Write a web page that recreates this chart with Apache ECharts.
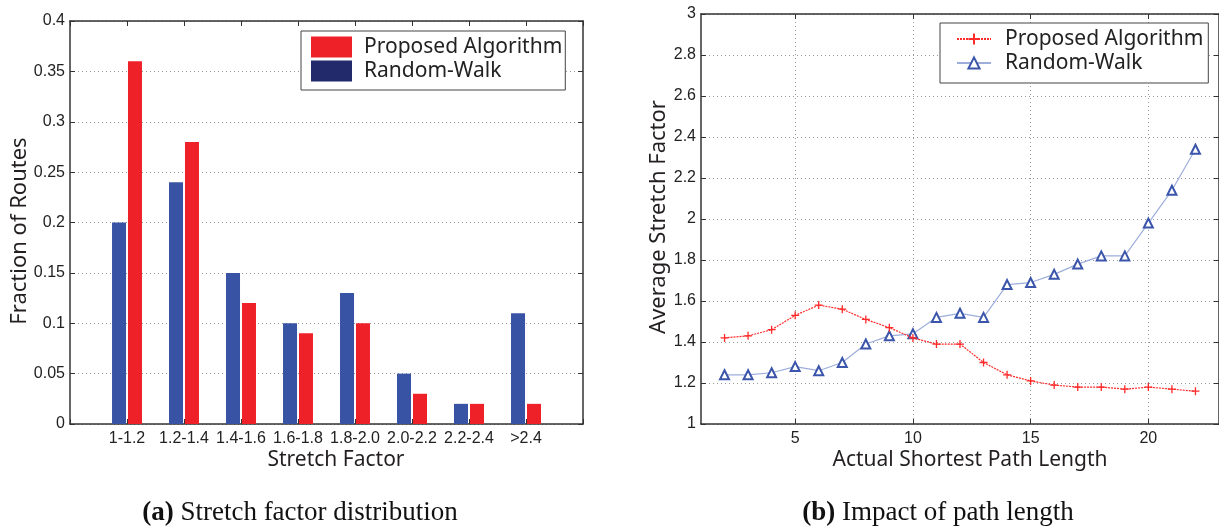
<!DOCTYPE html>
<html>
<head>
<meta charset="utf-8">
<script src="https://cdn.jsdelivr.net/npm/echarts@6/dist/echarts.min.js"></script>
<style>
html,body{margin:0;padding:0;background:#fff;}
#c{width:1219px;height:528px;}
</style>
</head>
<body>
<div id="c"></div>
<script>
// ---- data: panel (a) ----
var stretchCategories = ['1-1.2','1.2-1.4','1.4-1.6','1.6-1.8','1.8-2.0','2.0-2.2','2.2-2.4','>2.4'];
var randomWalkFraction = [0.20, 0.24, 0.15, 0.10, 0.13, 0.05, 0.02, 0.11];
var proposedFraction   = [0.36, 0.28, 0.12, 0.09, 0.10, 0.03, 0.02, 0.02];

// ---- data: panel (b) ----
var pathLengths = [2,3,4,5,6,7,8,9,10,11,12,13,14,15,16,17,18,19,20,21,22];
var proposedStretch   = [1.42,1.43,1.46,1.53,1.58,1.56,1.51,1.47,1.42,1.39,1.39,1.30,1.24,1.21,1.19,1.18,1.18,1.17,1.18,1.17,1.16];
var randomWalkStretch = [1.24,1.24,1.25,1.28,1.26,1.30,1.39,1.43,1.44,1.52,1.54,1.52,1.68,1.69,1.73,1.78,1.82,1.82,1.98,2.14,2.34];
var xTicksB = [5,10,15,20];

var RED = '#ee2028', BLUE = '#3953a4', NAVY = '#232a6b';
var LRED = '#ff2a2a', LBLUE = '#9eaedc', TRI = '#3a55aa';
var AX = '#333';
var tickFont = {fontFamily:'Liberation Sans, Arial, sans-serif', fontSize:16, color:'#222'};
var gridLine = {show:true, lineStyle:{color:'#999', type:[1,3], width:1}};

function pairs(xs, ys){ return xs.map(function(x,i){ return [x, ys[i]]; }); }
var barX = stretchCategories.map(function(c,i){ return i+1; });

var chart = echarts.init(document.getElementById('c'), null, {renderer:'canvas'});
var option = {
  animation:false,
  backgroundColor:'#fff',
  grid:[
    {left:70, top:21, right:1219-583, bottom:528-424, show:false},
    {left:701, top:14, right:-3, bottom:528-424, show:false}
  ],
  xAxis:[
    {gridIndex:0, type:'value', min:0, max:stretchCategories.length+1, interval:1,
     axisLine:{show:true, onZero:false, lineStyle:{color:AX, width:1.5}},
     axisTick:{show:true, inside:true, length:5, lineStyle:{color:AX}},
     axisLabel:Object.assign({margin:7, formatter:function(v){ return (v>=1 && v<=stretchCategories.length) ? stretchCategories[v-1] : ''; }}, tickFont),
     splitLine:{show:false}},
    {gridIndex:0, type:'value', position:'top', min:0, max:stretchCategories.length+1, interval:1,
     axisLine:{show:true, onZero:false, lineStyle:{color:AX, width:1.5}},
     axisTick:{show:true, inside:true, length:5, lineStyle:{color:AX}},
     axisLabel:{show:false}, splitLine:{show:false}},
    {gridIndex:1, type:'value', min:1, max:23,
     axisLine:{show:true, onZero:false, lineStyle:{color:AX, width:1.5}},
     axisTick:{show:true, inside:true, length:5, lineStyle:{color:AX}, customValues:xTicksB},
     axisLabel:Object.assign({margin:7, customValues:xTicksB}, tickFont),
     splitLine:gridLine},
    {gridIndex:1, type:'value', position:'top', min:1, max:23,
     axisLine:{show:true, onZero:false, lineStyle:{color:AX, width:1.5}},
     axisTick:{show:true, inside:true, length:5, lineStyle:{color:AX}, customValues:xTicksB},
     axisLabel:{show:false, customValues:xTicksB}, splitLine:{show:false}}
  ],
  yAxis:[
    {gridIndex:0, type:'value', min:0, max:0.4, interval:0.05,
     axisLine:{show:true, onZero:false, lineStyle:{color:AX, width:1.5}},
     axisTick:{show:true, inside:true, length:5, lineStyle:{color:AX}},
     axisLabel:Object.assign({margin:5, formatter:function(v){ return String(+v.toFixed(2)); }}, tickFont),
     splitLine:gridLine},
    {gridIndex:0, type:'value', position:'right', min:0, max:0.4, interval:0.05,
     axisLine:{show:true, onZero:false, lineStyle:{color:AX, width:1.5}},
     axisTick:{show:true, inside:true, length:5, lineStyle:{color:AX}},
     axisLabel:{show:false}, splitLine:{show:false}},
    {gridIndex:1, type:'value', min:1, max:3, interval:0.2,
     axisLine:{show:true, onZero:false, lineStyle:{color:AX, width:1.5}},
     axisTick:{show:true, inside:true, length:5, lineStyle:{color:AX}},
     axisLabel:Object.assign({margin:5, formatter:function(v){ return String(+v.toFixed(1)); }}, tickFont),
     splitLine:gridLine},
    {gridIndex:1, type:'value', position:'right', min:1, max:3, interval:0.2,
     axisLine:{show:true, onZero:false, lineStyle:{color:AX, width:1.5}},
     axisTick:{show:true, inside:true, length:5, lineStyle:{color:AX}},
     axisLabel:{show:false}, splitLine:{show:false}}
  ],
  legend:[
    {selectedMode:false, orient:'vertical', left:301, top:31,
     padding:[4,3,7,10], itemGap:0, itemWidth:41, itemHeight:21,
     borderColor:'#444', borderWidth:1, backgroundColor:'#fff',
     textStyle:{fontFamily:'Noto Sans', fontSize:21, color:'#222', lineHeight:24, padding:[0,0,0,7]},
     data:[
       {name:'Proposed Algorithm', icon:'rect', itemStyle:{color:RED}},
       {name:'Random-Walk', icon:'rect', itemStyle:{color:NAVY}}
     ]},
    {selectedMode:false, orient:'vertical', left:940, top:23,
     padding:[4,5,8,16], itemGap:0, itemWidth:34, itemHeight:14,
     borderColor:'#444', borderWidth:1, backgroundColor:'#fff',
     textStyle:{fontFamily:'Noto Sans', fontSize:21, color:'#222', lineHeight:24, padding:[0,0,0,9]},
     formatter:function(n){ return n.replace(' (b)',''); },
     data:['Proposed Algorithm (b)','Random-Walk (b)']}
  ],
  series:[
    {name:'Random-Walk', type:'bar', xAxisIndex:0, yAxisIndex:0,
     barWidth:14, barGap:'14%', itemStyle:{color:BLUE},
     data:pairs(barX, randomWalkFraction)},
    {name:'Proposed Algorithm', type:'bar', xAxisIndex:0, yAxisIndex:0,
     barWidth:14, barGap:'14%', itemStyle:{color:RED},
     data:pairs(barX, proposedFraction)},
    {name:'Proposed Algorithm (b)', type:'line', xAxisIndex:2, yAxisIndex:2,
     symbol:'path://M0,5L10,5M5,0L5,10', symbolSize:8, showAllSymbol:true,
     itemStyle:{color:LRED, borderColor:LRED, borderWidth:1.3},
     lineStyle:{color:LRED, width:1.2, type:[2,1]},
     data:pairs(pathLengths, proposedStretch), z:3},
    {name:'Random-Walk (b)', type:'line', xAxisIndex:2, yAxisIndex:2,
     symbol:'emptyTriangle', symbolSize:9, showAllSymbol:true,
     itemStyle:{color:TRI, borderColor:TRI, borderWidth:1.2},
     lineStyle:{color:LBLUE, width:1.2},
     data:pairs(pathLengths, randomWalkStretch), z:2}
  ],
  graphic:[
    {type:'text', x:20, y:231, rotation:Math.PI/2,
     style:{text:'Fraction of Routes', font:'22px "Noto Sans"', fill:'#231f20', textAlign:'center', textVerticalAlign:'middle'}},
    {type:'text', x:336, y:460,
     style:{text:'Stretch Factor', font:'21px "Noto Sans"', fill:'#231f20', textAlign:'center', textVerticalAlign:'middle'}},
    {type:'text', x:659, y:217, rotation:Math.PI/2,
     style:{text:'Average Stretch Factor', font:'22px "Noto Sans"', fill:'#231f20', textAlign:'center', textVerticalAlign:'middle'}},
    {type:'text', x:970, y:460,
     style:{text:'Actual Shortest Path Length', font:'21px "Noto Sans"', fill:'#231f20', textAlign:'center', textVerticalAlign:'middle'}},
    {type:'text', x:300, y:513,
     style:{text:'{b|(a)} Stretch factor distribution', fontFamily:'Liberation Serif', fontSize:27, fill:'#111', textAlign:'center', textVerticalAlign:'middle',
            rich:{b:{fontFamily:'Liberation Serif', fontSize:27, fontWeight:'bold', fill:'#111'}}}},
    {type:'text', x:938, y:513,
     style:{text:'{b|(b)} Impact of path length', fontFamily:'Liberation Serif', fontSize:27, fill:'#111', textAlign:'center', textVerticalAlign:'middle',
            rich:{b:{fontFamily:'Liberation Serif', fontSize:27, fontWeight:'bold', fill:'#111'}}}}
  ]
};
chart.setOption(option);
</script>
</body>
</html>
